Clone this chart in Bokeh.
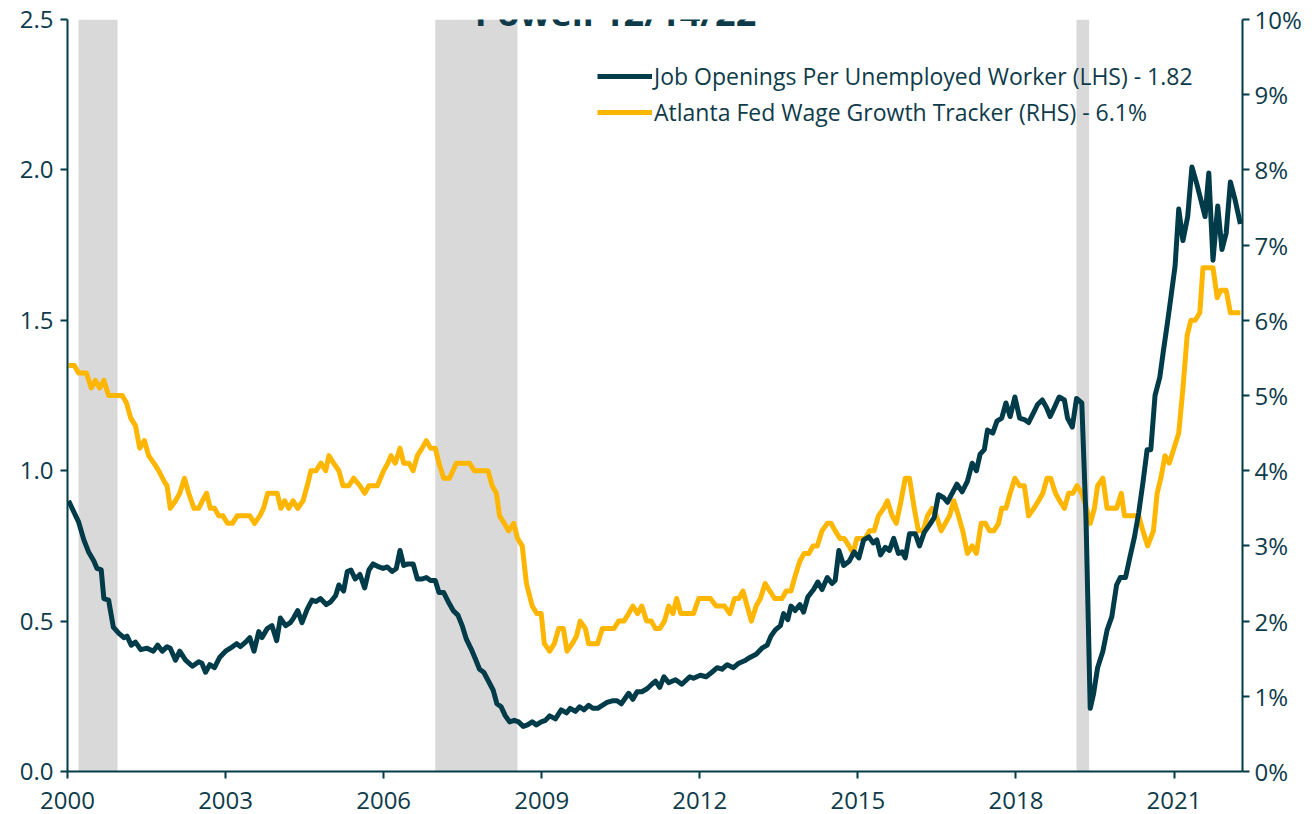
from bokeh.plotting import figure
from bokeh.models import (Range1d, LinearAxis, Legend, LegendItem, Label,
                          FixedTicker, ColumnDataSource)
from bokeh.embed import file_html
from bokeh.resources import INLINE

# ---------------- data (x positions in the chart's own year scale) ----------------
job_dates = [2000.02, 2000.21, 2000.31, 2000.40, 2000.50, 2000.56, 2000.64, 2000.69, 2000.78, 2000.87,
             2000.97, 2001.07, 2001.13, 2001.21, 2001.29, 2001.39, 2001.51, 2001.63, 2001.71, 2001.80,
             2001.89, 2001.95, 2002.05, 2002.13, 2002.24, 2002.37, 2002.49, 2002.55, 2002.62, 2002.70,
             2002.79, 2002.89, 2003.00, 2003.09, 2003.21, 2003.28, 2003.38, 2003.46, 2003.54, 2003.63,
             2003.69, 2003.79, 2003.88, 2003.97, 2004.04, 2004.14, 2004.23, 2004.29, 2004.37, 2004.45,
             2004.55, 2004.64, 2004.72, 2004.80, 2004.91, 2005.00, 2005.09, 2005.15, 2005.24, 2005.31,
             2005.38, 2005.46, 2005.55, 2005.64, 2005.72, 2005.80, 2005.91, 2005.99, 2006.07, 2006.16,
             2006.24, 2006.31, 2006.38, 2006.46, 2006.56, 2006.64, 2006.73, 2006.81, 2006.89, 2006.98,
             2007.05, 2007.14, 2007.24, 2007.32, 2007.41, 2007.49, 2007.57, 2007.68, 2007.74, 2007.82,
             2007.90, 2007.99, 2008.08, 2008.15, 2008.23, 2008.31, 2008.39, 2008.48, 2008.56, 2008.65,
             2008.73, 2008.82, 2008.90, 2008.99, 2009.07, 2009.15, 2009.26, 2009.37, 2009.47, 2009.54,
             2009.64, 2009.72, 2009.80, 2009.89, 2009.97, 2010.06, 2010.15, 2010.24, 2010.34, 2010.43,
             2010.51, 2010.59, 2010.65, 2010.73, 2010.81, 2010.90, 2011.00, 2011.09, 2011.16, 2011.24,
             2011.32, 2011.41, 2011.54, 2011.66, 2011.81, 2011.88, 2012.01, 2012.12, 2012.23, 2012.33,
             2012.42, 2012.52, 2012.64, 2012.74, 2012.87, 2012.96, 2013.07, 2013.18, 2013.28, 2013.35,
             2013.43, 2013.53, 2013.59, 2013.67, 2013.73, 2013.81, 2013.90, 2013.97, 2014.05, 2014.16,
             2014.24, 2014.32, 2014.42, 2014.51, 2014.57, 2014.64, 2014.73, 2014.84, 2014.93, 2015.02,
             2015.11, 2015.21, 2015.29, 2015.36, 2015.43, 2015.52, 2015.60, 2015.68, 2015.77, 2015.84,
             2015.90, 2015.98, 2016.09, 2016.17, 2016.26, 2016.36, 2016.45, 2016.53, 2016.63, 2016.70,
             2016.79, 2016.88, 2016.98, 2017.08, 2017.17, 2017.25, 2017.32, 2017.40, 2017.46, 2017.56,
             2017.64, 2017.73, 2017.81, 2017.89, 2017.98, 2018.07, 2018.16, 2018.24, 2018.34, 2018.41,
             2018.50, 2018.58, 2018.65, 2018.73, 2018.82, 2018.92, 2018.98, 2019.07, 2019.15, 2019.25,
             2019.33, 2019.41, 2019.47, 2019.55, 2019.65, 2019.73, 2019.82, 2019.91, 2019.98, 2020.08,
             2020.16, 2020.25, 2020.33, 2020.41, 2020.49, 2020.56, 2020.64, 2020.73, 2020.80, 2020.87,
             2020.94, 2021.02, 2021.09, 2021.17, 2021.26, 2021.34, 2021.43, 2021.51, 2021.59, 2021.66,
             2021.74, 2021.83, 2021.91, 2021.99, 2022.07, 2022.16, 2022.26]
job_values = [0.90, 0.83, 0.77, 0.73, 0.70, 0.675, 0.67, 0.575, 0.57, 0.48,
              0.46, 0.445, 0.45, 0.42, 0.43, 0.405, 0.41, 0.40, 0.42, 0.40,
              0.415, 0.41, 0.37, 0.40, 0.37, 0.35, 0.365, 0.36, 0.33, 0.355,
              0.345, 0.38, 0.40, 0.41, 0.425, 0.415, 0.43, 0.445, 0.40, 0.465,
              0.445, 0.475, 0.485, 0.435, 0.51, 0.485, 0.495, 0.51, 0.535, 0.495,
              0.54, 0.57, 0.565, 0.575, 0.555, 0.565, 0.585, 0.62, 0.60, 0.665,
              0.67, 0.64, 0.655, 0.61, 0.67, 0.69, 0.68, 0.675, 0.68, 0.665,
              0.675, 0.735, 0.685, 0.69, 0.69, 0.64, 0.64, 0.645, 0.635, 0.635,
              0.595, 0.595, 0.56, 0.535, 0.52, 0.485, 0.44, 0.40, 0.375, 0.34,
              0.33, 0.30, 0.27, 0.225, 0.215, 0.185, 0.165, 0.17, 0.165, 0.15,
              0.155, 0.165, 0.155, 0.165, 0.17, 0.185, 0.175, 0.205, 0.195, 0.21,
              0.20, 0.215, 0.205, 0.22, 0.21, 0.21, 0.22, 0.23, 0.235, 0.235,
              0.225, 0.245, 0.26, 0.24, 0.265, 0.265, 0.275, 0.29, 0.30, 0.28,
              0.315, 0.295, 0.305, 0.29, 0.315, 0.31, 0.32, 0.315, 0.33, 0.345,
              0.34, 0.355, 0.345, 0.36, 0.37, 0.38, 0.39, 0.41, 0.42, 0.45,
              0.47, 0.485, 0.525, 0.505, 0.55, 0.535, 0.555, 0.53, 0.58, 0.605,
              0.63, 0.605, 0.645, 0.625, 0.635, 0.735, 0.685, 0.70, 0.73, 0.71,
              0.77, 0.78, 0.76, 0.77, 0.72, 0.745, 0.735, 0.775, 0.725, 0.73,
              0.71, 0.79, 0.79, 0.75, 0.795, 0.82, 0.845, 0.92, 0.91, 0.895,
              0.925, 0.955, 0.93, 0.965, 1.025, 1.00, 1.055, 1.07, 1.135, 1.125,
              1.165, 1.175, 1.225, 1.18, 1.245, 1.175, 1.17, 1.16, 1.195, 1.22,
              1.235, 1.21, 1.18, 1.21, 1.245, 1.235, 1.175, 1.145, 1.24, 1.225,
              0.84, 0.21, 0.255, 0.345, 0.40, 0.47, 0.515, 0.62, 0.645, 0.645,
              0.71, 0.78, 0.86, 0.96, 1.07, 1.07, 1.25, 1.31, 1.40, 1.485,
              1.575, 1.68, 1.87, 1.765, 1.845, 2.01, 1.955, 1.90, 1.845, 1.99,
              1.70, 1.88, 1.735, 1.79, 1.96, 1.90, 1.82]

wage_dates = [2000.02, 2000.13, 2000.21, 2000.36, 2000.45, 2000.53, 2000.61, 2000.69, 2000.78, 2001.04,
              2001.12, 2001.20, 2001.29, 2001.37, 2001.46, 2001.54, 2001.64, 2001.73, 2001.84, 2001.89,
              2001.95, 2002.05, 2002.13, 2002.22, 2002.30, 2002.40, 2002.49, 2002.56, 2002.64, 2002.71,
              2002.79, 2002.87, 2002.95, 2003.04, 2003.13, 2003.22, 2003.46, 2003.55, 2003.65, 2003.72,
              2003.80, 2003.98, 2004.05, 2004.12, 2004.20, 2004.28, 2004.37, 2004.47, 2004.55, 2004.62,
              2004.72, 2004.81, 2004.90, 2004.96, 2005.05, 2005.15, 2005.23, 2005.34, 2005.43, 2005.55,
              2005.64, 2005.72, 2005.88, 2006.00, 2006.08, 2006.14, 2006.22, 2006.31, 2006.38, 2006.48,
              2006.56, 2006.64, 2006.73, 2006.81, 2006.89, 2006.98, 2007.05, 2007.14, 2007.25, 2007.38,
              2007.63, 2007.72, 2007.98, 2008.06, 2008.14, 2008.20, 2008.29, 2008.37, 2008.47, 2008.54,
              2008.63, 2008.71, 2008.82, 2008.91, 2008.99, 2009.05, 2009.15, 2009.24, 2009.32, 2009.41,
              2009.48, 2009.58, 2009.66, 2009.73, 2009.83, 2009.89, 2010.06, 2010.15, 2010.37, 2010.46,
              2010.56, 2010.65, 2010.73, 2010.82, 2010.90, 2010.99, 2011.08, 2011.16, 2011.24, 2011.33,
              2011.41, 2011.49, 2011.56, 2011.64, 2011.88, 2011.98, 2012.20, 2012.31, 2012.47, 2012.57,
              2012.66, 2012.74, 2012.82, 2012.90, 2012.98, 2013.07, 2013.15, 2013.24, 2013.33, 2013.42,
              2013.56, 2013.64, 2013.73, 2013.81, 2013.90, 2013.98, 2014.07, 2014.15, 2014.23, 2014.32,
              2014.42, 2014.49, 2014.57, 2014.66, 2014.74, 2014.83, 2014.91, 2014.98, 2015.14, 2015.22,
              2015.31, 2015.39, 2015.49, 2015.56, 2015.65, 2015.73, 2015.82, 2015.90, 2015.98, 2016.07,
              2016.15, 2016.24, 2016.32, 2016.41, 2016.49, 2016.58, 2016.66, 2016.74, 2016.82, 2016.91,
              2016.99, 2017.08, 2017.17, 2017.25, 2017.34, 2017.42, 2017.50, 2017.58, 2017.67, 2017.73,
              2017.81, 2017.89, 2017.98, 2018.07, 2018.16, 2018.24, 2018.34, 2018.43, 2018.51, 2018.59,
              2018.66, 2018.75, 2018.83, 2018.92, 2019.00, 2019.08, 2019.16, 2019.25, 2019.34, 2019.41,
              2019.49, 2019.55, 2019.65, 2019.73, 2019.91, 2020.00, 2020.06, 2020.33, 2020.41, 2020.50,
              2020.61, 2020.68, 2020.75, 2020.83, 2020.91, 2021.00, 2021.09, 2021.17, 2021.25, 2021.32,
              2021.40, 2021.49, 2021.55, 2021.74, 2021.82, 2021.89, 2021.99, 2022.07, 2022.26]
wage_values = [5.4, 5.4, 5.3, 5.3, 5.1, 5.2, 5.1, 5.2, 5.0, 5.0,
               4.9, 4.7, 4.6, 4.3, 4.4, 4.2, 4.1, 4.0, 3.85, 3.8,
               3.5, 3.6, 3.7, 3.9, 3.7, 3.5, 3.5, 3.6, 3.7, 3.5,
               3.5, 3.4, 3.4, 3.3, 3.3, 3.4, 3.4, 3.3, 3.4, 3.5,
               3.7, 3.7, 3.5, 3.6, 3.5, 3.6, 3.5, 3.6, 3.8, 4.0,
               4.0, 4.1, 4.0, 4.2, 4.1, 4.0, 3.8, 3.8, 3.9, 3.8,
               3.7, 3.8, 3.8, 4.0, 4.1, 4.2, 4.1, 4.3, 4.1, 4.1,
               4.0, 4.2, 4.3, 4.4, 4.3, 4.3, 4.1, 3.9, 3.9, 4.1,
               4.1, 4.0, 4.0, 3.8, 3.7, 3.4, 3.3, 3.2, 3.3, 3.1,
               3.0, 2.5, 2.2, 2.1, 2.1, 1.7, 1.6, 1.7, 1.9, 1.9,
               1.6, 1.7, 1.8, 2.0, 1.9, 1.7, 1.7, 1.9, 1.9, 2.0,
               2.0, 2.1, 2.2, 2.1, 2.2, 2.0, 2.0, 1.9, 1.9, 2.0,
               2.2, 2.1, 2.3, 2.1, 2.1, 2.3, 2.3, 2.2, 2.2, 2.1,
               2.3, 2.3, 2.4, 2.2, 2.0, 2.2, 2.3, 2.5, 2.4, 2.3,
               2.3, 2.4, 2.4, 2.6, 2.8, 2.9, 2.9, 3.0, 3.0, 3.2,
               3.3, 3.3, 3.2, 3.1, 3.1, 3.0, 2.9, 3.1, 3.1, 3.2,
               3.2, 3.4, 3.5, 3.6, 3.4, 3.3, 3.6, 3.9, 3.9, 3.5,
               3.2, 3.2, 3.4, 3.5, 3.4, 3.2, 3.3, 3.4, 3.6, 3.4,
               3.2, 2.9, 3.0, 2.9, 3.3, 3.3, 3.2, 3.2, 3.3, 3.5,
               3.5, 3.7, 3.9, 3.8, 3.8, 3.4, 3.5, 3.6, 3.7, 3.9,
               3.9, 3.7, 3.6, 3.5, 3.7, 3.7, 3.8, 3.7, 3.5, 3.3,
               3.5, 3.8, 3.9, 3.5, 3.5, 3.7, 3.4, 3.4, 3.2, 3.0,
               3.2, 3.7, 3.9, 4.2, 4.1, 4.3, 4.5, 5.1, 5.8, 6.0,
               6.0, 6.1, 6.7, 6.7, 6.3, 6.4, 6.4, 6.1, 6.1]

recession_start = [2000.21, 2006.98, 2019.15]
recession_end = [2000.95, 2008.54, 2019.39]

x_ticks = [2000, 2003, 2006, 2009, 2012, 2015, 2018, 2021]
left_ticks = [0.0, 0.5, 1.0, 1.5, 2.0, 2.5]
right_ticks = [0, 1, 2, 3, 4, 5, 6, 7, 8, 9, 10]
right_tick_labels = ["0%", "1%", "2%", "3%", "4%", "5%", "6%", "7%", "8%", "9%", "10%"]

title_text = "Powell 12/14/22"
job_label = "Job Openings Per Unemployed Worker (LHS) - 1.82"
wage_label = "Atlanta Fed Wage Growth Tracker (RHS) - 6.1%"

# ---------------- styling ----------------
TEAL = "#003B49"
TEXT = "#0E3B4A"
GOLD = "#FFB600"
GREY = "#D9D9D9"
FONT = "Open Sans"

p = figure(width=1308, height=814, output_backend="svg", toolbar_location=None,
           x_range=Range1d(2000.0, 2022.3), y_range=Range1d(0, 2.5),
           min_border_left=67, min_border_right=66, min_border_top=19, min_border_bottom=43)
p.extra_y_ranges = {"pct": Range1d(0, 10)}
p.outline_line_color = None
p.xgrid.visible = False
p.ygrid.visible = False
p.background_fill_color = "white"
p.border_fill_color = "white"

# recession shading
rec_src = ColumnDataSource(dict(left=recession_start, right=recession_end,
                                bottom=[0] * len(recession_start), top=[2.5] * len(recession_start)))
p.quad(left="left", right="right", bottom="bottom", top="top", source=rec_src,
       fill_color=GREY, line_color=None)

wage_r = p.line(wage_dates, wage_values, y_range_name="pct", line_color=GOLD, line_width=5,
                line_join="round")
job_r = p.line(job_dates, job_values, line_color=TEAL, line_width=5, line_join="round")

def style_axis(ax, size="24px"):
    ax.axis_line_color = TEAL
    ax.axis_line_width = 2
    ax.major_tick_line_color = TEAL
    ax.major_tick_line_width = 2
    ax.major_tick_out = 7
    ax.major_tick_in = 0
    ax.minor_tick_line_color = None
    ax.major_label_text_color = TEXT
    ax.major_label_text_font = FONT
    ax.major_label_text_font_size = size

# x axis
xa = p.xaxis[0]
xa.ticker = FixedTicker(ticks=x_ticks)
xa.major_label_overrides = {t: str(t) for t in x_ticks}
style_axis(xa)
xa.major_label_standoff = 13
xa.major_label_text_line_height = 0.9

# left axis
ya = p.yaxis[0]
ya.ticker = FixedTicker(ticks=left_ticks)
ya.major_label_overrides = {t: f"{t:.1f}" for t in left_ticks}
style_axis(ya)
ya.major_label_standoff = 7

# right axis
ra = LinearAxis(y_range_name="pct")
ra.ticker = FixedTicker(ticks=right_ticks)
ra.major_label_overrides = {t: lab for t, lab in zip(right_ticks, right_tick_labels)}
style_axis(ra)
ra.major_label_standoff = 5
p.add_layout(ra, "right")

# legend
legend = Legend(items=[LegendItem(label=job_label, renderers=[job_r]),
                       LegendItem(label=wage_label, renderers=[wage_r])],
                location=(530, 643), orientation="vertical",
                background_fill_alpha=0, border_line_color=None,
                padding=0, margin=0, spacing=4,
                glyph_width=55, glyph_height=24, label_height=24,
                label_standoff=2,
                label_text_font=FONT, label_text_font_size="23px", label_text_color=TEXT)
p.add_layout(legend)

# title (cut off at the top as in the original)
p.add_layout(Label(x=2010.4, y=2.523, text=title_text, text_align="center",
                   text_baseline="alphabetic", text_font=FONT, text_font_style="bold",
                   text_font_size="36px", text_color=TEXT))

open("out.html", "w").write(file_html(p, INLINE))
